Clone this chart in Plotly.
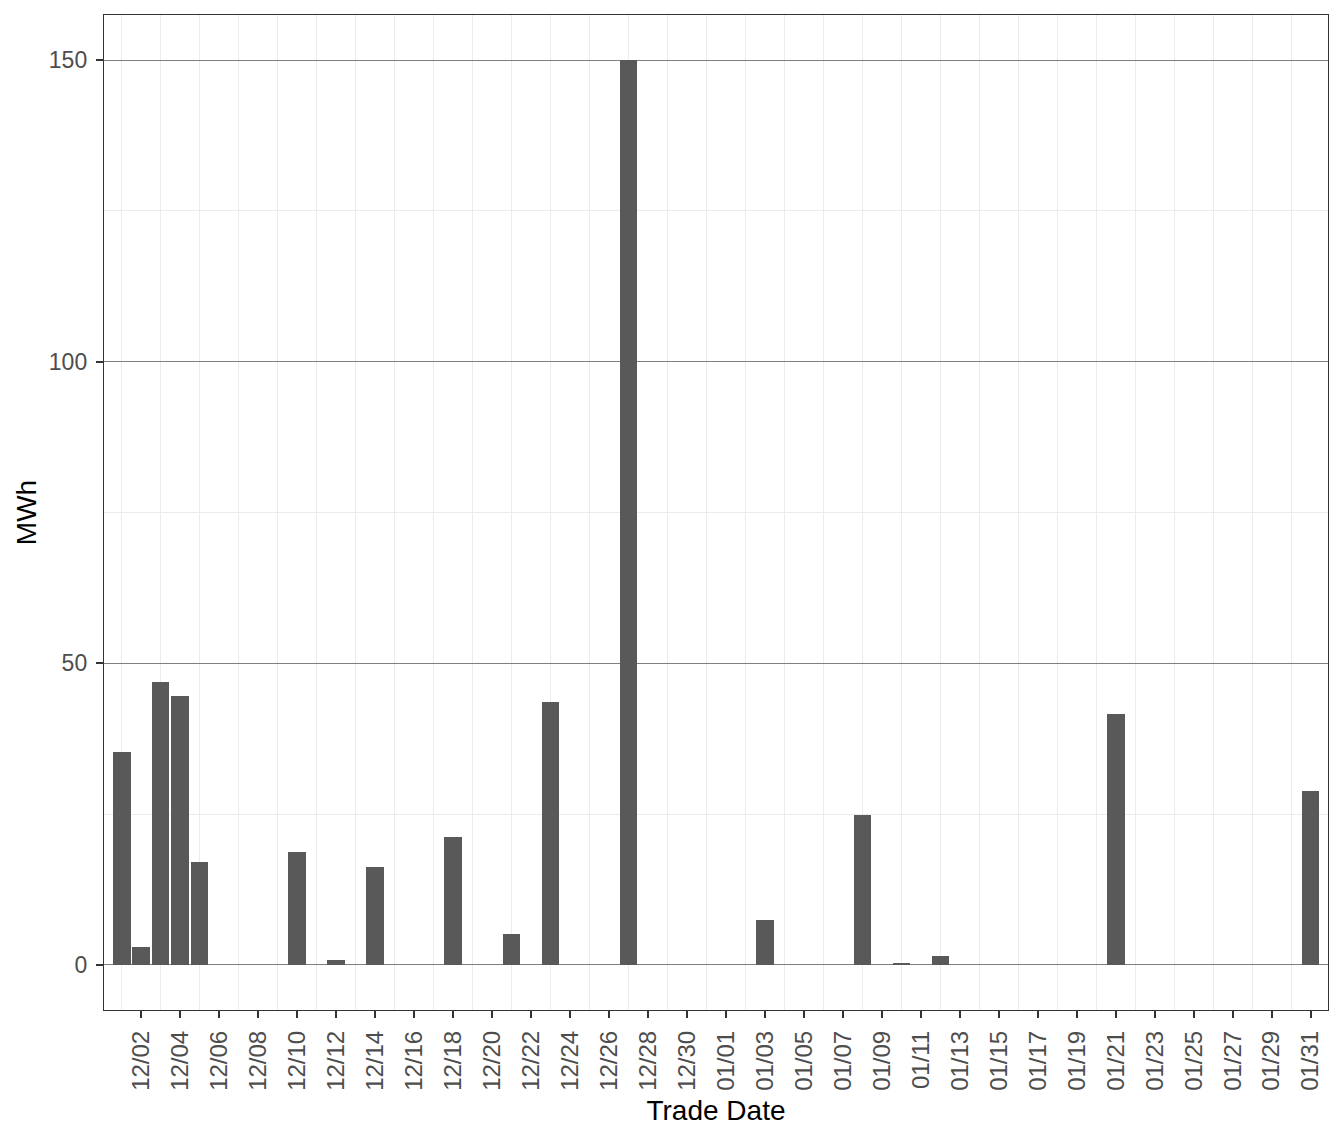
import plotly.graph_objects as go

# Fechas con energía negociada (el resto de días es 0)
fechas = ["2022-12-01", "2022-12-02", "2022-12-03", "2022-12-04", "2022-12-05",
          "2022-12-10", "2022-12-12", "2022-12-14", "2022-12-18", "2022-12-21",
          "2022-12-23", "2022-12-27", "2023-01-03", "2023-01-08", "2023-01-10",
          "2023-01-12", "2023-01-21", "2023-01-31"]
mwh = [35.3, 3.0, 46.9, 44.6, 17.1,
       18.7, 0.8, 16.2, 21.2, 5.1,
       43.5, 150.0, 7.5, 24.9, 0.2,
       1.5, 41.6, 28.9]

DIA = 86400000  # ms

fuente = "Liberation Sans, Arial, sans-serif"

fig = go.Figure()
fig.add_trace(go.Bar(
    x=fechas,
    y=mwh,
    width=0.9 * DIA,
    marker=dict(color="#595959", line=dict(width=0)),
))

# la página deja 8 px de margen al cuerpo, de ahí el tamaño algo menor
fig.update_layout(
    width=1336,
    height=1134,
    paper_bgcolor="white",
    plot_bgcolor="white",
    margin=dict(l=96, r=16, t=7, b=132, autoexpand=False),
    showlegend=False,
    font=dict(family=fuente, color="#4d4d4d", size=23),
    bargap=0,
)

fig.update_xaxes(
    type="date",
    range=["2022-11-30 02:10", "2023-01-31 21:20"],
    tick0="2022-12-02",
    dtick=2 * DIA,
    tickformat="%m/%d",
    tickangle=-90,
    ticks="outside",
    ticklen=7,
    tickwidth=2,
    tickcolor="#333333",
    ticklabelstandoff=3,
    tickfont=dict(size=24, color="#4d4d4d"),
    showgrid=False,
    minor=dict(tick0="2022-12-01", dtick=2 * DIA, showgrid=True,
               gridcolor="#ebebeb", gridwidth=1.2, ticks=""),
    showline=True,
    mirror=True,
    linecolor="#333333",
    linewidth=1.4,
    zeroline=False,
    title=dict(text="Trade Date", font=dict(size=28, color="black"), standoff=10),
    automargin=False,
)

fig.update_yaxes(
    range=[-7.5, 157.5],
    tick0=0,
    dtick=50,
    ticks="outside",
    ticklen=7,
    tickwidth=2,
    tickcolor="#333333",
    ticklabelstandoff=4,
    tickfont=dict(size=23, color="#4d4d4d"),
    showgrid=True,
    gridcolor="#7f7f7f",
    gridwidth=1,
    minor=dict(dtick=25, showgrid=True, gridcolor="#ebebeb", gridwidth=1.2, ticks=""),
    showline=True,
    mirror=True,
    linecolor="#333333",
    linewidth=1.4,
    zeroline=False,
    title=dict(text="MWh", font=dict(size=28, color="black"), standoff=4),
    automargin=False,
)

fig.write_html("out.html")
